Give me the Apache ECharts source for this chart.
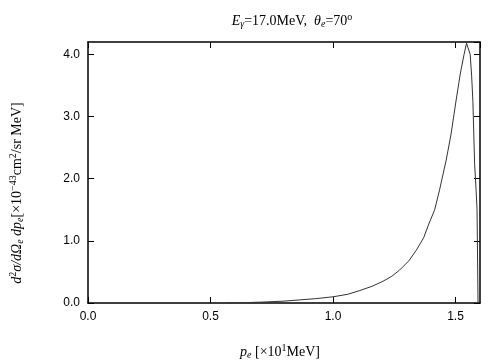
<!DOCTYPE html>
<html>
<head>
<meta charset="utf-8">
<script src="https://cdn.jsdelivr.net/npm/echarts@6/dist/echarts.min.js"></script>
<style>
  html, body { margin: 0; padding: 0; background: #fff; }
  #main { width: 504px; height: 360px; }
</style>
</head>
<body>
<div id="main"></div>
<script>
// momentum p_e [x10 MeV] and cross section [x10^-43 cm^2/sr MeV]
const pe = [0.565, 0.65, 0.714, 0.8, 0.864, 0.93, 1.0, 1.06, 1.109, 1.16, 1.204, 1.24, 1.272, 1.31, 1.34, 1.37, 1.391, 1.415, 1.435, 1.462, 1.482, 1.502, 1.52, 1.535, 1.545, 1.552, 1.56, 1.566, 1.571, 1.578, 1.584, 1.588, 1.592];
const sigma = [0, 0.007, 0.015, 0.03, 0.05, 0.07, 0.10, 0.14, 0.2, 0.27, 0.35, 0.43, 0.53, 0.68, 0.85, 1.05, 1.27, 1.5, 1.82, 2.3, 2.72, 3.25, 3.7, 4.0, 4.18, 4.2, 4.0, 3.65, 3.24, 2.24, 1.82, 1.5, 0];
const xTicks = ['0.0', '0.5', '1.0', '1.5'];
const yTicks = ['0.0', '1.0', '2.0', '3.0', '4.0'];

const chart = echarts.init(document.getElementById('main'));
const serif = 'Liberation Serif';
const sans = 'Liberation Sans';

const tickStyle = { show: true, inside: true, length: 6, lineStyle: { color: '#000', width: 1 } };
const lineStyle = { show: true, onZero: false, lineStyle: { color: '#000', width: 1.5 } };
function makeRich(size) {
  const s = Math.round(size * 0.72);
  return {
    i: { fontFamily: serif, fontStyle: 'italic', fontWeight: 'normal', fontSize: size, color: '#000' },
    n: { fontFamily: serif, fontWeight: 'normal', fontSize: size, color: '#000' },
    sb: { fontFamily: serif, fontStyle: 'italic', fontWeight: 'normal', fontSize: s, color: '#000', padding: [Math.round(size * 0.5), 0, 0, 0] },
    sp: { fontFamily: serif, fontWeight: 'normal', fontSize: s, color: '#000', padding: [0, 0, Math.round(size * 0.6), 0] }
  };
}

chart.setOption({
  animation: false,
  title: {
    text: '{i|E}{sb|γ}{n|=17.0MeV,  }{i|θ}{sb|e}{n|=70}{sp|o}',
    left: 287,
    top: 7,
    textAlign: 'center',
    textStyle: { fontWeight: 'normal', rich: makeRich(14) }
  },
  grid: { left: 88, right: 24, top: 42, bottom: 57 },
  graphic: [{
    type: 'text',
    x: 17, y: 193,
    rotation: Math.PI / 2,
    style: {
      text: '{i|d}{sp|2}{i|σ/dΩ}{sb|e}{i| dp}{sb|e}{n|[×10}{sp|−43}{n|cm}{sp|2}{n|/sr MeV]}',
      rich: makeRich(14),
      align: 'center',
      verticalAlign: 'middle'
    }
  }, {
    type: 'text',
    x: 280, y: 352,
    style: {
      text: '{i|p}{sb|e}{n| [×10}{sp|1}{n|MeV]}',
      rich: makeRich(14),
      align: 'center',
      verticalAlign: 'middle'
    }
  }],
  xAxis: [{
    type: 'value',
    min: 0, max: 1.6, interval: 0.5,
    axisLine: lineStyle,
    axisTick: tickStyle,
    splitLine: { show: false },
    axisLabel: {
      showMaxLabel: false,
      color: '#000', fontFamily: sans, fontSize: 12, margin: 8,
      formatter: v => xTicks[Math.round(v / 0.5)] || ''
    }
  }, {
    type: 'value', position: 'top',
    min: 0, max: 1.6, interval: 0.5,
    axisLine: lineStyle, axisTick: tickStyle,
    axisLabel: { show: false }, splitLine: { show: false }
  }],
  yAxis: [{
    type: 'value',
    min: 0, max: 4.2, interval: 1,
    axisLine: lineStyle,
    axisTick: tickStyle,
    splitLine: { show: false },
    axisLabel: {
      showMaxLabel: false,
      color: '#000', fontFamily: sans, fontSize: 12, margin: 8,
      formatter: v => yTicks[Math.round(v)] || ''
    }
  }, {
    type: 'value', position: 'right',
    min: 0, max: 4.2, interval: 1,
    axisLine: lineStyle, axisTick: tickStyle,
    axisLabel: { show: false }, splitLine: { show: false }
  }],
  series: [{
    type: 'line',
    data: pe.map((x, i) => [x, sigma[i]]),
    showSymbol: false,
    smooth: false,
    lineStyle: { color: '#333', width: 1 }
  }, {
    type: 'line', xAxisIndex: 1, yAxisIndex: 1, data: [], silent: true
  }]
});
</script>
</body>
</html>
